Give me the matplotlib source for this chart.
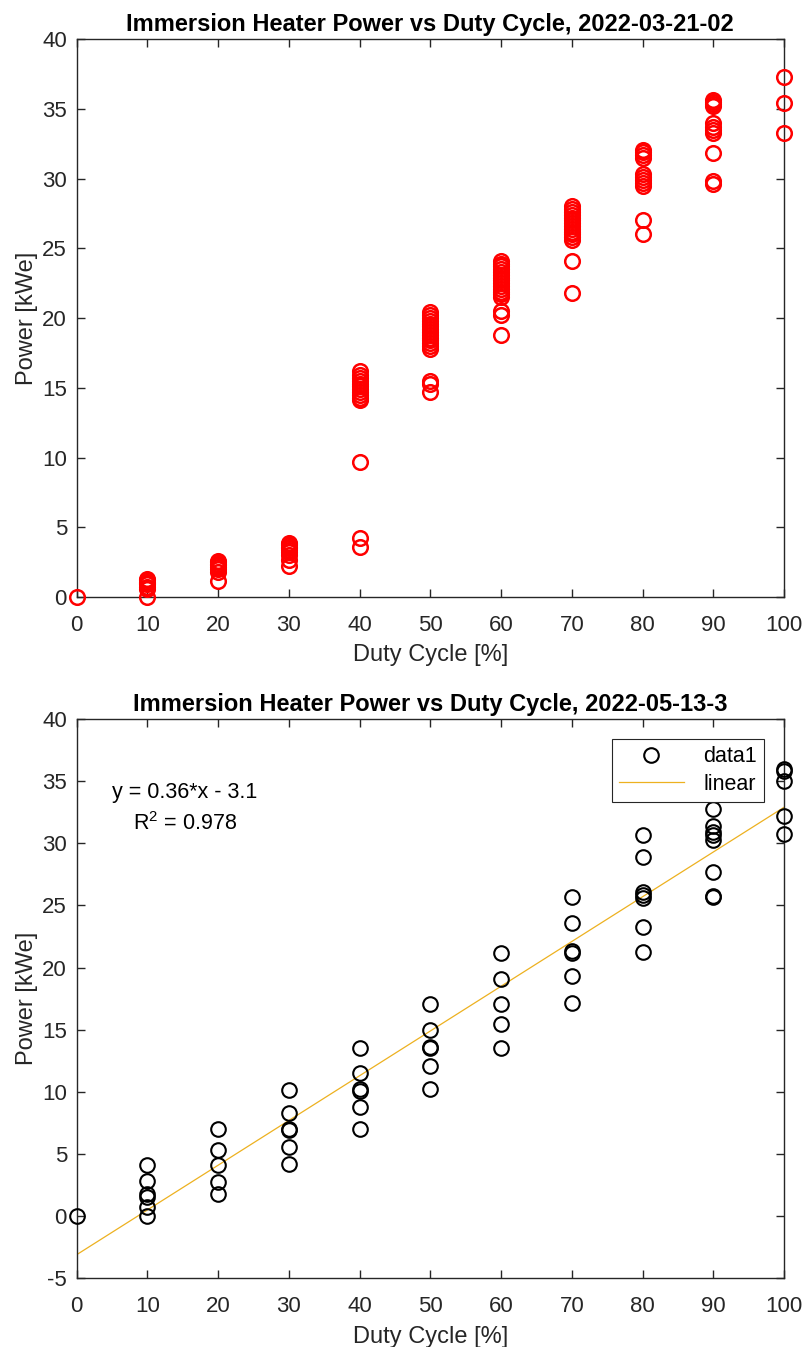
import numpy as np
import matplotlib.pyplot as plt

plt.rcParams['font.family'] = ['Liberation Sans', 'DejaVu Sans']
plt.rcParams['axes.unicode_minus'] = False
plt.rcParams['mathtext.fontset'] = 'custom'
plt.rcParams['mathtext.rm'] = 'Liberation Sans'

# ---- run 2022-03-21-02 (red) : duty cycle -> measured power [kWe]
top_title = 'Immersion Heater Power vs Duty Cycle, 2022-03-21-02'
top_duty = [0, 10, 20, 30, 40, 50, 60, 70, 80, 90, 100]
top_power = [
    [0.0],
    [0.0, 0.6, 0.75, 0.9, 1.0, 1.1, 1.2, 1.3],
    [1.15, 1.8, 2.0, 2.15, 2.3, 2.4, 2.5, 2.6],
    [2.2, 2.65, 3.0, 3.2, 3.35, 3.5, 3.6, 3.7, 3.8, 3.9],
    [3.6, 4.2, 9.7, 14.1, 14.3, 14.5, 14.7, 14.9, 15.1, 15.3, 15.5, 15.7, 15.9, 16.2],
    [14.7, 15.3, 15.5, 17.8, 18.0, 18.2, 18.4, 18.6, 18.8, 19.0, 19.2, 19.4,
     19.6, 19.8, 20.0, 20.2, 20.4],
    [18.8, 20.2, 20.5, 21.5, 21.7, 21.9, 22.1, 22.3, 22.5, 22.7, 22.9, 23.1,
     23.3, 23.5, 23.7, 23.9, 24.1],
    [21.8, 24.1, 25.6, 25.8, 26.0, 26.2, 26.4, 26.6, 26.8, 27.0, 27.2, 27.4,
     27.6, 27.8, 28.0],
    [26.05, 27.05, 29.5, 29.7, 29.9, 30.1, 30.3, 31.5, 31.7, 31.9, 32.05],
    [29.6, 29.85, 31.8, 33.3, 33.5, 33.7, 34.0, 35.2, 35.35, 35.5, 35.6],
    [33.3, 35.4, 37.3],
]

# ---- run 2022-05-13-3 (black) with linear fit
bot_title = 'Immersion Heater Power vs Duty Cycle, 2022-05-13-3'
bot_duty = [0, 10, 20, 30, 40, 50, 60, 70, 80, 90, 100]
bot_power = [
    [0.0],
    [0.0, 0.75, 1.55, 1.75, 2.8, 4.15],
    [1.75, 2.75, 4.15, 5.35, 7.05],
    [4.2, 5.6, 6.95, 7.05, 8.3, 10.15],
    [7.05, 8.75, 10.1, 10.2, 11.5, 13.5],
    [10.2, 12.05, 13.5, 13.6, 15.0, 17.1],
    [13.5, 15.5, 17.1, 19.1, 21.2],
    [17.15, 19.35, 21.15, 21.3, 23.6, 25.7],
    [21.25, 23.3, 25.6, 25.85, 26.1, 28.9, 30.7],
    [25.7, 25.75, 27.7, 30.3, 30.7, 30.95, 31.4, 32.8],
    [30.75, 32.2, 35.0, 35.85, 35.95],
]
fit_slope = 0.36
fit_intercept = -3.1
fit_r2 = 0.978

axis_col = '#262626'
fit_col = '#EDB120'

fig = plt.figure(figsize=(8.02, 13.47), dpi=100)
ax1 = fig.add_axes([0.0956, 0.5568, 0.8820, 0.4142])
ax2 = fig.add_axes([0.0956, 0.0510, 0.8820, 0.4152])


def style(ax, ylim, yticks):
    ax.set_xlim(0, 100)
    ax.set_ylim(*ylim)
    ax.set_xticks(range(0, 101, 10))
    ax.set_yticks(yticks)
    ax.tick_params(direction='in', top=True, right=True, length=6, width=1,
                   colors=axis_col, labelsize=16)
    ax.tick_params(axis='x', pad=13)
    ax.tick_params(axis='y', pad=7)
    for s in ax.spines.values():
        s.set_color(axis_col)
        s.set_linewidth(1)
    ax.set_xlabel('Duty Cycle [%]', fontsize=17, color=axis_col, labelpad=6)
    ax.set_ylabel('Power [kWe]', fontsize=17, color=axis_col, labelpad=3)


for d, p in zip(top_duty, top_power):
    ax1.plot([d] * len(p), p, 'o', mfc='none', mec='red', ms=10.5, mew=1.8,
             clip_on=False, zorder=3)
style(ax1, (0, 40), range(0, 41, 5))
ax1.set_title(top_title, fontsize=17, fontweight='bold', pad=6)

xs, ys = [], []
for d, p in zip(bot_duty, bot_power):
    xs += [d] * len(p)
    ys += p
ax2.plot(xs, ys, 'o', mfc='none', mec='black', ms=10.5, mew=1.5,
         clip_on=False, zorder=3, label='data1')
xf = np.array([0, 100])
ax2.plot(xf, fit_slope * xf + fit_intercept, color=fit_col, lw=0.9,
         label='linear')
style(ax2, (-5, 40), range(-5, 41, 5))
ax2.set_title(bot_title, fontsize=17, fontweight='bold', pad=6)
ax2.text(15.3, 34.1, f'y = {fit_slope:.2f}*x - {abs(fit_intercept):.1f}',
         fontsize=15.5, ha='center', va='center')
ax2.text(15.3, 31.6, f'R$^2$ = {fit_r2:.3f}', fontsize=15.5, ha='center',
         va='center')
leg = ax2.legend(loc='upper right', bbox_to_anchor=(0.972, 0.965),
                 fontsize=15.5, frameon=True, fancybox=False, framealpha=1,
                 edgecolor=axis_col, borderpad=0.35, handlelength=3.0,
                 handletextpad=0.9, labelspacing=0.3, markerfirst=True,
                 borderaxespad=0)
leg.get_frame().set_linewidth(0.8)
for t in leg.get_texts():
    t.set_ha('right')

fig.savefig('out.png', dpi=100)
